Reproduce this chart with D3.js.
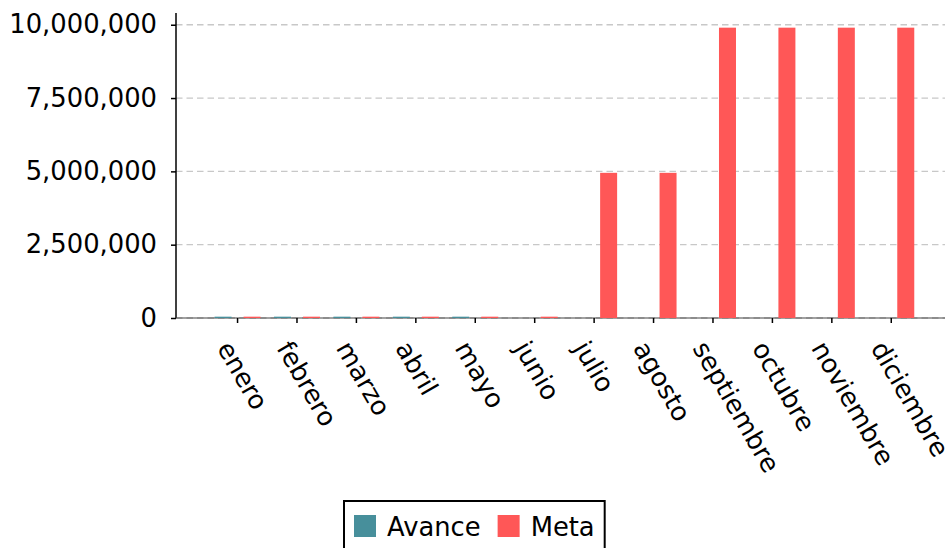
<!DOCTYPE html>
<html>
<head>
<meta charset="utf-8">
<script src="https://cdn.jsdelivr.net/npm/d3@7"></script>
<style>
  body { margin: 0; background: #fff; }
  text { font-family: "DejaVu Sans", sans-serif; }
</style>
</head>
<body>
<div id="chart"></div>
<script>
// data
const months = ["enero", "febrero", "marzo", "abril", "mayo", "junio",
  "julio", "agosto", "septiembre", "octubre", "noviembre", "diciembre"];
const series = ["Avance", "Meta"];
const avance = [45000, 45000, 45000, 45000, 45000, 0, 0, 0, 0, 0, 0, 0];
const meta = [45000, 45000, 45000, 45000, 45000, 45000,
  4950000, 4950000, 9900000, 9900000, 9900000, 9900000];
const yTicks = [0, 2500000, 5000000, 7500000, 10000000];
const colors = ["#478f9b", "#ff5757"];

const W = 947, H = 548;
const LEFT = 176, RIGHT = 945, TOP = 13, BOTTOM = 318;
const FONT = "25.8px";

const svg = d3.select("#chart").append("svg")
  .attr("width", W)
  .attr("height", H);

const x = d3.scaleBand()
  .domain(months)
  .range([LEFT, RIGHT])
  .paddingInner(0)
  .paddingOuter(0.47)
  .align(0.57);

const step = x.step();
const xSub = d3.scaleBand()
  .domain(series)
  .range([-0.387 * step, 0.387 * step])
  .paddingInner(0.414);

const y = d3.scaleLinear()
  .domain([0, 10400000])
  .range([BOTTOM, TOP]);

// grid
svg.append("g")
  .selectAll("line")
  .data(yTicks)
  .join("line")
  .attr("x1", LEFT)
  .attr("x2", RIGHT)
  .attr("y1", (d) => y(d))
  .attr("y2", (d) => y(d))
  .attr("stroke", "#c8c8c8")
  .attr("stroke-width", 1.3)
  .attr("stroke-dasharray", "6.5,4");

// spines
svg.append("line")
  .attr("x1", LEFT).attr("x2", LEFT)
  .attr("y1", TOP).attr("y2", BOTTOM)
  .attr("stroke", "#000").attr("stroke-width", 1.5);
svg.append("line")
  .attr("x1", LEFT).attr("x2", RIGHT)
  .attr("y1", BOTTOM).attr("y2", BOTTOM)
  .attr("stroke", "#444").attr("stroke-width", 1.2);

// bars
const rows = months.map((m, i) => ({ month: m, values: [avance[i], meta[i]] }));
svg.append("g")
  .selectAll("g")
  .data(rows)
  .join("g")
  .attr("transform", (d) => `translate(${x(d.month) + x.bandwidth() / 2},0)`)
  .selectAll("rect")
  .data((d) => d.values.map((v, j) => ({ key: series[j], value: v, color: colors[j] })))
  .join("rect")
  .attr("x", (d) => xSub(d.key))
  .attr("width", xSub.bandwidth())
  .attr("y", (d) => y(d.value))
  .attr("height", (d) => BOTTOM - y(d.value))
  .attr("fill", (d) => d.color);

// x axis
const xAxis = svg.append("g")
  .attr("transform", `translate(0,${BOTTOM})`)
  .call(d3.axisBottom(x).tickSize(5).tickSizeOuter(0));
xAxis.select(".domain").remove();
xAxis.selectAll(".tick line").attr("stroke", "#000").attr("stroke-width", 1.5);
xAxis.selectAll("text")
  .attr("x", 0)
  .attr("y", 0)
  .attr("dy", 0)
  .attr("text-anchor", "start")
  .attr("transform", "translate(-21,30) rotate(60)")
  .attr("font-size", FONT)
  .attr("font-family", "DejaVu Sans")
  .attr("fill", "#000");

// y axis
const yAxis = svg.append("g")
  .attr("transform", `translate(${LEFT},0)`)
  .call(d3.axisLeft(y).tickValues(yTicks).tickSize(5).tickPadding(14)
    .tickFormat(d3.format(",")));
yAxis.select(".domain").remove();
yAxis.selectAll(".tick line").attr("stroke", "#000").attr("stroke-width", 1.5);
yAxis.selectAll("text")
  .attr("font-size", FONT)
  .attr("font-family", "DejaVu Sans")
  .attr("fill", "#000");

// legend
const legend = svg.append("g");
const box = legend.append("rect")
  .attr("y", 501)
  .attr("height", 60)
  .attr("fill", "#fff")
  .attr("stroke", "#000")
  .attr("stroke-width", 2);
let lx = 354;
series.forEach((s, i) => {
  legend.append("rect")
    .attr("x", lx).attr("y", 515)
    .attr("width", 22).attr("height", 22)
    .attr("fill", colors[i]);
  const t = legend.append("text")
    .attr("x", lx + 33).attr("y", 536)
    .attr("font-size", FONT)
    .attr("fill", "#000")
    .text(s);
  lx += 33 + t.node().getComputedTextLength() + 17;
});
box.attr("x", 344).attr("width", lx - 17 + 10 - 344);
</script>
</body>
</html>
